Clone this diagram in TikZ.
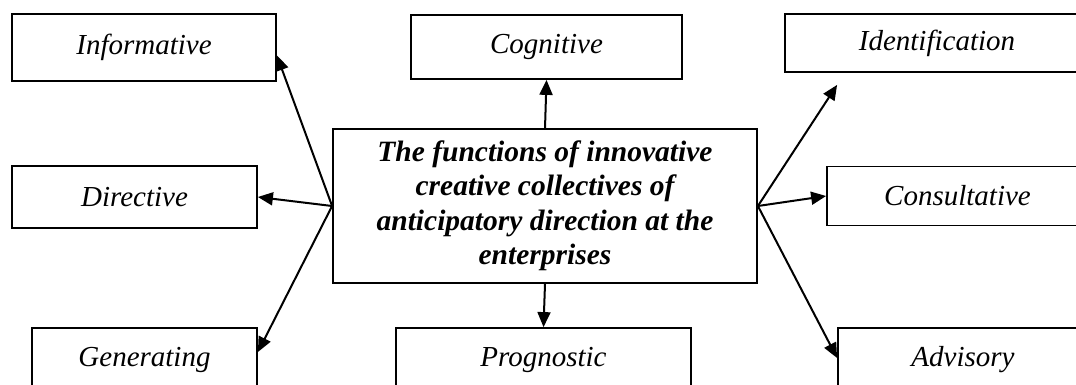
\documentclass[tikz,border=0pt]{standalone}
\usepackage{fontspec}
\setmainfont{Liberation Serif}
\usetikzlibrary{arrows.meta}
\begin{document}
\begin{tikzpicture}[x=1pt,y=-1pt,
  box/.style={draw,line width=1.8pt,rectangle,inner sep=0pt,
    font=\fontsize{29}{34}\selectfont\itshape},
  arr/.style={line width=2pt,-{Triangle[length=15pt,width=13pt]}}]
\useasboundingbox (0,0) rectangle (1076,385);
\node[box,minimum width=424pt,minimum height=154pt,align=center,
  font=\fontsize{29.5}{34.5}\selectfont\bfseries\itshape] (c) at (545,206)
  {The functions of innovative\\creative collectives of\\anticipatory direction at the\\enterprises};
\node[box,minimum width=264pt,minimum height=67pt] (inf) at (144,47.5) {Informative};
\node[box,minimum width=271pt,minimum height=64pt] (cog) at (546.5,47) {Cognitive};
\node[box,minimum width=304pt,minimum height=58pt] (idf) at (937,43) {Identification};
\node[box,minimum width=245pt,minimum height=62pt] (dir) at (134.5,197) {Directive};
\node[box,minimum width=261pt,minimum height=59pt] (con) at (957.5,196) {Consultative};
\node[box,minimum width=225pt,minimum height=64pt] (gen) at (144.5,360) {Generating};
\node[box,minimum width=295pt,minimum height=64pt] (prog) at (543.5,360) {Prognostic};
\node[box,minimum width=250pt,minimum height=64pt] (adv) at (963,360) {Advisory};
\coordinate (idftip) at ([xshift=53pt,yshift=-12pt]idf.south west);
\draw[arr] (c.west) -- ([yshift=-8pt]inf.east);
\draw[arr] (c.west) -- (dir.east);
\draw[arr] (c.west) -- ([yshift=8pt]gen.east);
\draw[arr] (c.east) -- (idftip);
\draw[arr] (c.east) -- (con.west);
\draw[arr] (c.east) -- ([yshift=2pt]adv.west);
\draw[arr] (c.north) -- (cog.south);
\draw[arr] (c.south) -- (prog.north);
\end{tikzpicture}
\end{document}
